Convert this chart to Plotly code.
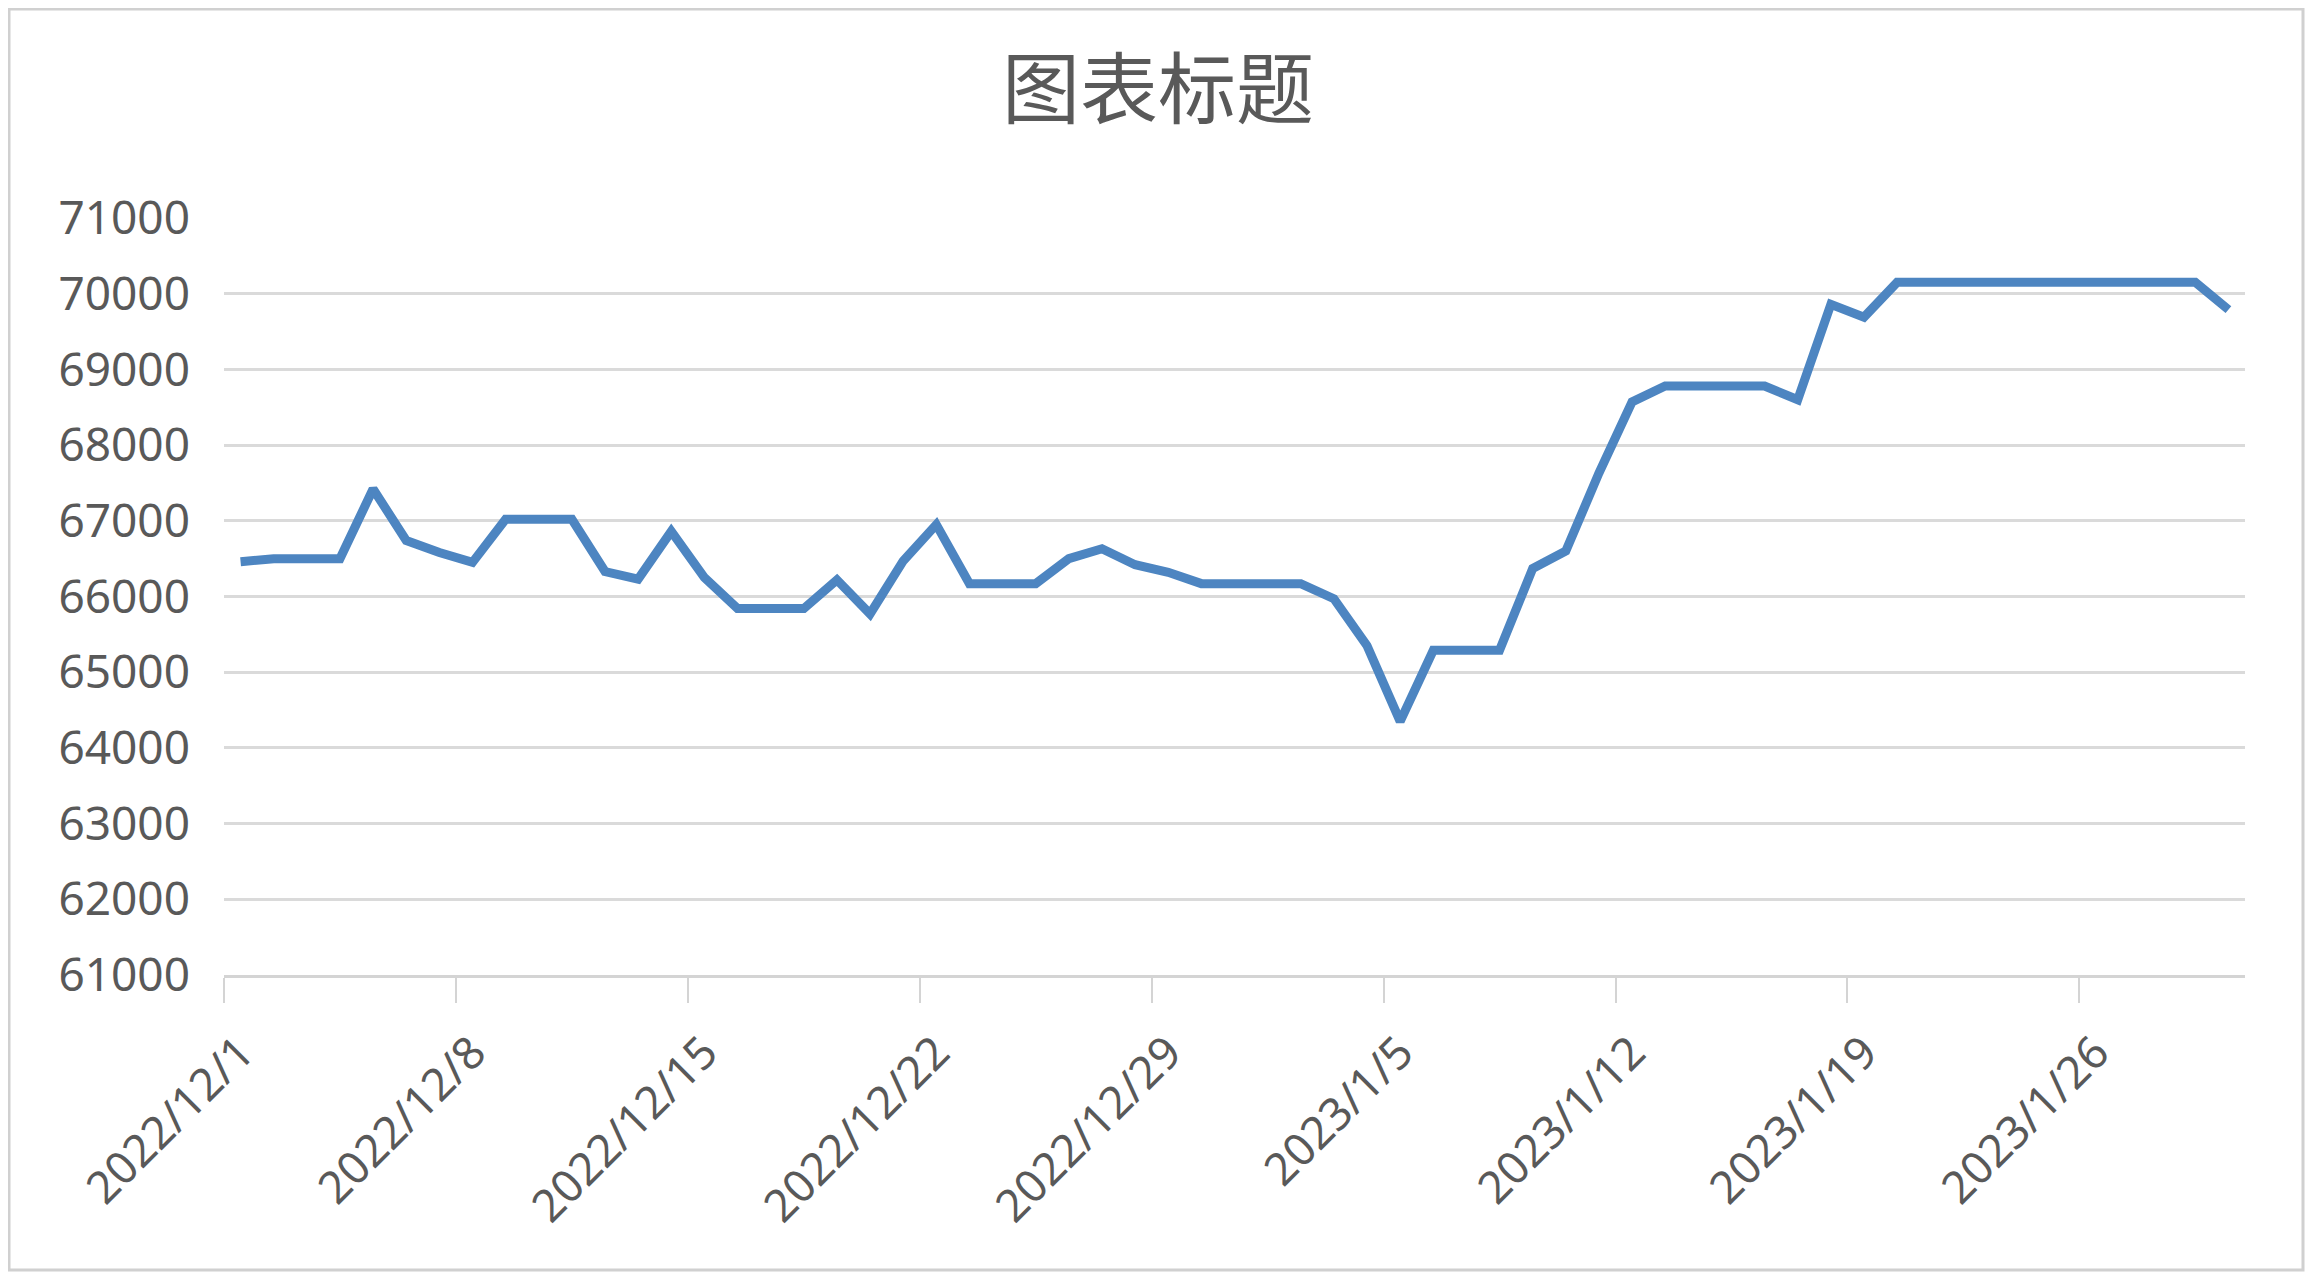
import pandas as pd
import plotly.graph_objects as go

# ---- data ----
dates = pd.date_range("2022-12-01", "2023-01-30", freq="D").strftime("%Y-%m-%d").tolist()
prices = [
    66460, 66500, 66500, 66500, 67420, 66740, 66580, 66450, 67020, 67020,
    67020, 66330, 66230, 66860, 66250, 65840, 65840, 65840, 66220, 65770,
    66470, 66950, 66170, 66170, 66170, 66500, 66630, 66420, 66320, 66170,
    66170, 66170, 66170, 65970, 65350, 64350, 65290, 65290, 65290, 66370,
    66600, 67630, 68570, 68780, 68780, 68780, 68780, 68600, 69860, 69690,
    70150, 70150, 70150, 70150, 70150, 70150, 70150, 70150, 70150, 70150,
    69790,
]
tick_dates = ["2022-12-01", "2022-12-08", "2022-12-15", "2022-12-22", "2022-12-29",
              "2023-01-05", "2023-01-12", "2023-01-19", "2023-01-26"]
tick_labels = ["2022/12/1", "2022/12/8", "2022/12/15", "2022/12/22", "2022/12/29",
               "2023/1/5", "2023/1/12", "2023/1/19", "2023/1/26"]
y_ticks = [61000, 62000, 63000, 64000, 65000, 66000, 67000, 68000, 69000, 70000, 71000]
title_text = "图表标题"

# ---- geometry (page has an 8px body margin) ----
OFF = 8
W, H = 2313 - 2 * OFF, 1280 - 2 * OFF
L, R, T, B = 224 - OFF, 2245 - OFF, 218 - OFF, 975 - OFF
half_day = pd.Timedelta(hours=12)

x_centers = pd.to_datetime(dates) + half_day
tick_centers = pd.to_datetime(tick_dates) + half_day
tick_edges = pd.to_datetime(tick_dates)

fig = go.Figure()
fig.add_trace(go.Scatter(
    x=x_centers, y=prices, mode="lines",
    line=dict(color="#4d85c1", width=9, shape="linear"),
    hoverinfo="x+y", showlegend=False,
))

grey = "#595959"
fig.update_layout(
    width=W, height=H,
    margin=dict(l=L, r=W - R, t=T, b=H - B),
    paper_bgcolor="white", plot_bgcolor="white",
    font=dict(family="Noto Sans, sans-serif", color=grey, size=46),
    title=dict(text=title_text, x=(1158 - OFF) / W, xanchor="center",
               y=1 - (91 - OFF) / H, yanchor="middle",
               font=dict(family="Noto Sans CJK SC", size=78, color=grey)),
    xaxis=dict(
        type="date",
        range=[pd.Timestamp("2022-12-01"), pd.Timestamp("2023-01-31")],
        tickmode="array", tickvals=tick_centers, ticktext=tick_labels,
        tickangle=-45, ticks="", showgrid=False,
        showline=True, linecolor="#d4d4d4", linewidth=3,
        tickfont=dict(size=45, color=grey),
        ticklabelstandoff=30,
        minor=dict(tickmode="array", tickvals=tick_edges, ticks="outside",
                   ticklen=25, tickwidth=2, tickcolor="#d4d4d4", showgrid=False),
        zeroline=False,
    ),
    yaxis=dict(
        range=[61000, 71000], tickmode="array", tickvals=y_ticks,
        ticktext=[str(v) for v in y_ticks],
        showgrid=True, gridcolor="#dadada", gridwidth=3,
        zeroline=False, showline=False, ticks="",
        tickfont=dict(size=46, color=grey),
        ticklabelstandoff=33,
    ),
    shapes=[dict(type="rect", xref="paper", yref="paper",
                 x0=(1 - L) / (R - L), x1=(W - 2 - L) / (R - L),
                 y0=(B - (H - 2)) / (B - T), y1=(B - 1) / (B - T),
                 line=dict(color="#d0d0d0", width=3), layer="below")],
)

fig.write_html("out.html")
